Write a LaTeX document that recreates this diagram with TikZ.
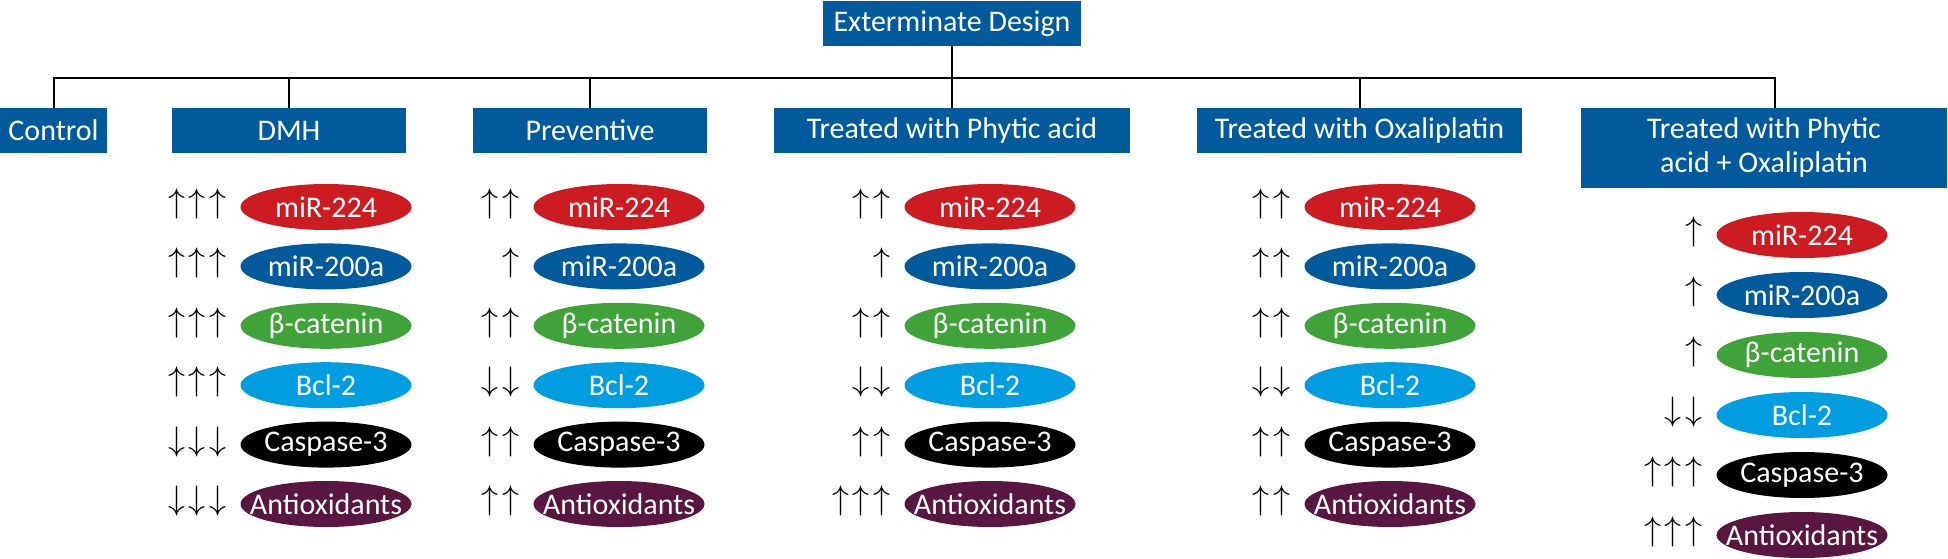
\documentclass[tikz,border=0pt]{standalone}
\usepackage{fontspec}
\setmainfont{Carlito}
\usepackage{graphicx}
\usepackage{tikz}
\usetikzlibrary{positioning, shapes.geometric}
\definecolor{boxblue}{RGB}{0,90,156}
\definecolor{mirred}{RGB}{205,27,34}
\definecolor{catgreen}{RGB}{64,163,58}
\definecolor{bclblue}{RGB}{0,158,224}
\definecolor{antipurple}{RGB}{88,22,64}
\newcommand{\lvUp}{\makebox[20.5pt]{\fontsize{10}{12}\selectfont\scalebox{3.4}{$\uparrow$}}}
\newcommand{\lvDn}{\makebox[20.5pt]{\fontsize{10}{12}\selectfont\scalebox{3.4}{$\downarrow$}}}

\begin{document}
\begin{tikzpicture}[x=1pt, y=-1pt, font=\fontsize{30}{34}\selectfont]
	\tikzset{
		groupbox/.style={fill=boxblue, text=white, inner sep=0, minimum height=45, align=center},
		marker/.style={ellipse, text=white, inner sep=0, minimum width=171, minimum height=46},
		level/.style={inner sep=0, yshift=3pt},
		wire/.style={line width=2pt}
	}
	\useasboundingbox (0,0) rectangle (1948,559);
	
	% groups
	\node[groupbox, minimum width=258]	(top)	at (952,23.5)	{Exterminate Design};
	\node[groupbox, minimum width=107]	(ctrl)	at (53.5,130.5)	{Control};
	\node[groupbox, minimum width=234]	(dmh)	at (289,130.5)	{DMH};
	\node[groupbox, minimum width=234]	(prev)	at (590,130.5)	{Preventive};
	\node[groupbox, minimum width=356]	(phy)	at (952,130.5)	{Treated with Phytic acid};
	\node[groupbox, minimum width=325]	(oxa)	at (1359.5,130.5)	{Treated with Oxaliplatin};
	\node[groupbox, minimum width=366, minimum height=80]	(mix)	at (1764,148)	{Treated with Phytic\\acid + Oxaliplatin};
	
	% tree
	\coordinate (hub) at (top.south |- 0,78);
	\draw[wire]	(top) -- (phy);
	\draw[wire]	(ctrl.north) |- (hub) -| ([xshift=11pt]mix.north);
	\foreach \g in {dmh, prev, oxa}
		\draw[wire]	(\g.north) -- (\g.north |- hub);
	
	% markers
	\foreach \cn/\cx/\cy/\dy in {dmh/326/207/59.4, prev/619/207/59.4, phy/990/207/59.4, oxa/1390/207/59.4, mix/1802/235/60}
		\foreach \lab/\col [count=\i from 0] in {miR-224/mirred, miR-200a/boxblue, β-catenin/catgreen, Bcl-2/bclblue, Caspase-3/black, Antioxidants/antipurple}
			\node[marker, fill=\col] (\cn-\i) at (\cx,\cy+\i*\dy) {\makebox[0pt]{\lab}};
	
	% levels
	\foreach \lv [count=\i from 0] in {\lvUp\lvUp\lvUp, \lvUp\lvUp\lvUp, \lvUp\lvUp\lvUp, \lvUp\lvUp\lvUp, \lvDn\lvDn\lvDn, \lvDn\lvDn\lvDn}
		\node[level, left=12pt of dmh-\i] (dmh-lv\i) {\lv};
	\foreach \lv [count=\i from 0] in {\lvUp\lvUp, \lvUp, \lvUp\lvUp, \lvDn\lvDn, \lvUp\lvUp, \lvUp\lvUp}
		\node[level, left=12pt of prev-\i] (prev-lv\i) {\lv};
	\foreach \lv [count=\i from 0] in {\lvUp\lvUp, \lvUp, \lvUp\lvUp, \lvDn\lvDn, \lvUp\lvUp, \lvUp\lvUp\lvUp}
		\node[level, left=12pt of phy-\i] (phy-lv\i) {\lv};
	\foreach \lv [count=\i from 0] in {\lvUp\lvUp, \lvUp\lvUp, \lvUp\lvUp, \lvDn\lvDn, \lvUp\lvUp, \lvUp\lvUp}
		\node[level, left=12pt of oxa-\i] (oxa-lv\i) {\lv};
	\foreach \lv [count=\i from 0] in {\lvUp, \lvUp, \lvUp, \lvDn\lvDn, \lvUp\lvUp\lvUp, \lvUp\lvUp\lvUp}
		\node[level, left=12pt of mix-\i] (mix-lv\i) {\lv};
\end{tikzpicture}
\end{document}
